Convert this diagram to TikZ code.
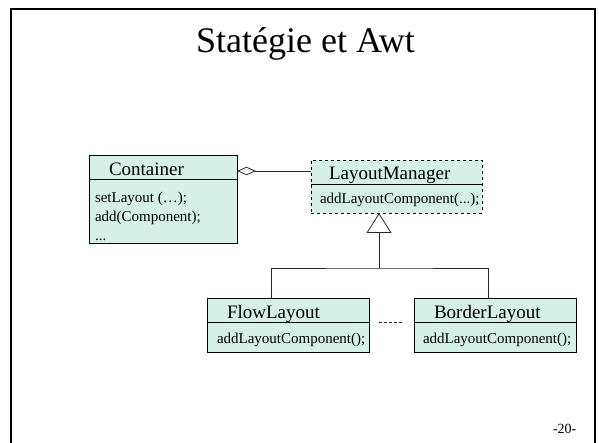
\documentclass[tikz,border=0pt]{standalone}
\usepackage{fontspec}
\setmainfont{Liberation Serif}
\usepackage{xcolor}
\usetikzlibrary{arrows.meta,positioning}
\definecolor{clsfill}{RGB}{212,240,231}
\definecolor{linegray}{RGB}{40,40,40}

\begin{document}
\begin{tikzpicture}[
  x=1pt, y=-1pt,
  every node/.style={inner sep=0pt, outer sep=0pt},
  cls/.style={draw, line width=0.8pt, fill=clsfill},
  cname/.style={anchor=base west, font=\fontsize{19}{22}\selectfont},
  meth/.style={anchor=base west, font=\fontsize{15}{18}\selectfont},
  edge/.style={draw=linegray, line width=0.8pt},
  aggr/.style={edge, {Diamond[open, fill=white, length=19pt, width=8.5pt]}-},
  inherit/.style={edge, -{Triangle[open, fill=white, length=20pt, width=25pt]}}
]
\useasboundingbox (0,0) rectangle (599,443);
\draw[line width=1.5pt] (11,443) -- (11,9) -- (595,9) -- (595,443);

\node[anchor=base, font=\fontsize{36}{40}\selectfont] (title) at (305.5,53) {Statégie et Awt};
\node[anchor=base west, font=\fontsize{14}{16}\selectfont] (page) at (553,433) {-20-};

% classes
\node[cls, minimum width=148pt, minimum height=88pt] (container) at (163,199) {};
\node[cls, dashed, minimum width=171pt, minimum height=53pt] (manager) at (396.5,186.5) {};
\node[cls, minimum width=162pt, minimum height=54pt] (flow) at (288,325) {};
\node[cls, minimum width=162pt, minimum height=54pt] (border) at (495,325) {};

\draw[line width=0.8pt] ([yshift=-24pt]container.north west) -- ([yshift=-24pt]container.north east);
\draw[line width=0.8pt] ([yshift=-24pt]manager.north west) -- ([yshift=-24pt]manager.north east);
\draw[line width=0.8pt] ([yshift=-24pt]flow.north west) -- ([yshift=-24pt]flow.north east);
\draw[line width=0.8pt] ([yshift=-24pt]border.north west) -- ([yshift=-24pt]border.north east);

\node[cname] (containername) at ([xshift=20pt, yshift=-21pt]container.north west) {Container};
\node[cname] (managername) at ([xshift=18pt, yshift=-20pt]manager.north west) {LayoutManager};
\node[cname] (flowname) at ([xshift=20pt, yshift=-20pt]flow.north west) {FlowLayout};
\node[cname] (bordername) at ([xshift=20pt, yshift=-20pt]border.north west) {BorderLayout};

\node[meth] (cm1) at ([xshift=6pt, yshift=-48pt]container.north west) {setLayout (\ldots);};
\node[meth] (cm2) at ([yshift=-19pt]cm1.base west) {add(Component);};
\node[meth] (cm3) at ([yshift=-19pt]cm2.base west) {...};
\node[meth] (mm1) at ([xshift=9pt, yshift=-44pt]manager.north west) {addLayoutComponent(...);};
\node[meth] (fm1) at ([xshift=10pt, yshift=-45pt]flow.north west) {addLayoutComponent();};
\node[meth] (bm1) at ([xshift=9pt, yshift=-45pt]border.north west) {addLayoutComponent();};

% connectors
\draw[aggr] ([yshift=-16pt]container.north east) -- ([yshift=-16pt]container.north east -| manager.west);
\coordinate (join) at (379,268);
\draw[inherit] (join) -- (join |- manager.south);
\draw[edge] ([xshift=-17pt]flow.north) |- (join) -| ([xshift=-7pt]border.north);
\draw[edge, dash pattern=on 3pt off 2pt] ([xshift=10pt, yshift=-24pt]flow.north east) -- ([xshift=-11pt, yshift=-24pt]border.north west);
\end{tikzpicture}
\end{document}
